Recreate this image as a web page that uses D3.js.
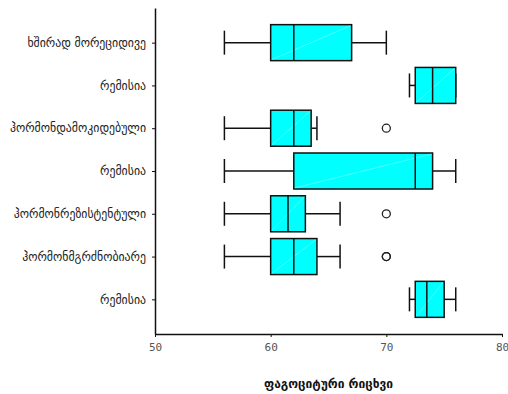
<!DOCTYPE html>
<html>
<head>
<meta charset="utf-8">
<script src="https://cdn.jsdelivr.net/npm/d3@7"></script>
<style>
  body { margin: 0; background: #fff; }
  svg { display: block; }
  .tick text { font-family: "DejaVu Sans Mono", monospace; }
</style>
</head>
<body>
<svg id="chart" width="508" height="394"></svg>
<script>
// box plot data (top to bottom)
var categories = ['ხშირად მორეციდივე', 'რემისია', 'ჰორმონდამოკიდებული', 'რემისია',
    'ჰორმონრეზისტენტული', 'ჰორმონმგრძნობიარე', 'რემისია'];
var mins    = [56, 72,   56,   56,   56,   56, 72];
var q1s     = [60, 72.5, 60,   62,   60,   60, 72.5];
var medians = [62, 74,   62,   72.5, 61.5, 62, 73.5];
var q3s     = [67, 76,   63.5, 74,   63,   64, 75];
var maxs    = [70, 76,   64,   76,   66,   66, 76];
var outliers = [[], [], [70], [], [70], [70, 70], []];
var xTicks = [50, 60, 70, 80];
var xTitle = 'ფაგოციტური რიცხვი';

var svg = d3.select('#chart');
var plotL = 155, plotR = 502, plotT = 8, plotB = 334;

var x = d3.scaleLinear().domain([50, 80]).range([plotL, plotR]);
var y = d3.scalePoint().domain(d3.range(categories.length)).range([plotT, plotB]).padding(0.81);
var boxH = 36, capH = 24;

var rows = categories.map(function(c, i) {
    return { i: i, name: c, min: mins[i], q1: q1s[i], med: medians[i], q3: q3s[i], max: maxs[i], out: outliers[i] };
});

var g = svg.selectAll('g.box').data(rows).enter().append('g').attr('class', 'box');

// whiskers
g.append('line')
    .attr('x1', function(d) { return x(d.min); }).attr('x2', function(d) { return x(d.q1); })
    .attr('y1', function(d) { return y(d.i); }).attr('y2', function(d) { return y(d.i); })
    .attr('stroke', '#111').attr('stroke-width', 1.5);
g.append('line')
    .attr('x1', function(d) { return x(d.q3); }).attr('x2', function(d) { return x(d.max); })
    .attr('y1', function(d) { return y(d.i); }).attr('y2', function(d) { return y(d.i); })
    .attr('stroke', '#111').attr('stroke-width', 1.5);
['min', 'max'].forEach(function(k) {
    g.append('line')
        .attr('x1', function(d) { return x(d[k]); }).attr('x2', function(d) { return x(d[k]); })
        .attr('y1', function(d) { return y(d.i) - capH / 2; }).attr('y2', function(d) { return y(d.i) + capH / 2; })
        .attr('stroke', '#111').attr('stroke-width', 1.5);
});

// boxes
g.append('rect')
    .attr('x', function(d) { return x(d.q1); })
    .attr('y', function(d) { return y(d.i) - boxH / 2; })
    .attr('width', function(d) { return x(d.q3) - x(d.q1); })
    .attr('height', boxH)
    .attr('fill', '#00ffff').attr('stroke', '#111').attr('stroke-width', 1.5);
// faint diagonal seam across each box
g.append('line')
    .attr('x1', function(d) { return x(d.q1) + 1; }).attr('y1', function(d) { return y(d.i) + boxH / 2 - 1; })
    .attr('x2', function(d) { return x(d.q3) - 1; }).attr('y2', function(d) { return y(d.i) - boxH / 2 + 1; })
    .attr('stroke', '#fff').attr('stroke-opacity', 0.5).attr('stroke-width', 0.6);
g.append('line')
    .attr('x1', function(d) { return x(d.med); }).attr('x2', function(d) { return x(d.med); })
    .attr('y1', function(d) { return y(d.i) - boxH / 2; }).attr('y2', function(d) { return y(d.i) + boxH / 2; })
    .attr('stroke', '#111').attr('stroke-width', 1.5);

// outliers
g.selectAll('circle').data(function(d) { return d.out.map(function(v) { return { v: v, i: d.i }; }); })
    .enter().append('circle')
    .attr('cx', function(d) { return x(d.v); })
    .attr('cy', function(d) { return y(d.i); })
    .attr('r', 4)
    .attr('fill', 'none').attr('stroke', '#222').attr('stroke-width', 1.3);

// axes
var xAxis = svg.append('g').attr('transform', 'translate(0,' + plotB + ')')
    .call(d3.axisBottom(x).tickValues(xTicks).tickSize(3).tickPadding(6).tickSizeOuter(0));
xAxis.select('.domain').attr('stroke', '#111').attr('stroke-width', 1.5);
xAxis.selectAll('.tick line').attr('stroke', '#111');
xAxis.selectAll('.tick text').attr('fill', '#555').attr('font-size', 11);

var yAxis = svg.append('g').attr('transform', 'translate(' + plotL + ',0)')
    .call(d3.axisLeft(y).tickSize(3).tickPadding(6).tickSizeOuter(0)
        .tickFormat(function(i) { return categories[i]; }));
yAxis.select('.domain').attr('stroke', '#111').attr('stroke-width', 1.5);
yAxis.selectAll('.tick line').attr('stroke', '#111');
yAxis.selectAll('.tick text').attr('fill', '#222').attr('font-size', 11.8)
    .style('font-family', '"DejaVu Sans", sans-serif');

svg.append('text')
    .attr('x', (plotL + plotR) / 2).attr('y', 388)
    .attr('text-anchor', 'middle')
    .attr('font-family', '"DejaVu Sans", sans-serif')
    .attr('font-weight', 'bold').attr('font-size', 12)
    .attr('fill', '#111')
    .text(xTitle);
</script>
</body>
</html>
